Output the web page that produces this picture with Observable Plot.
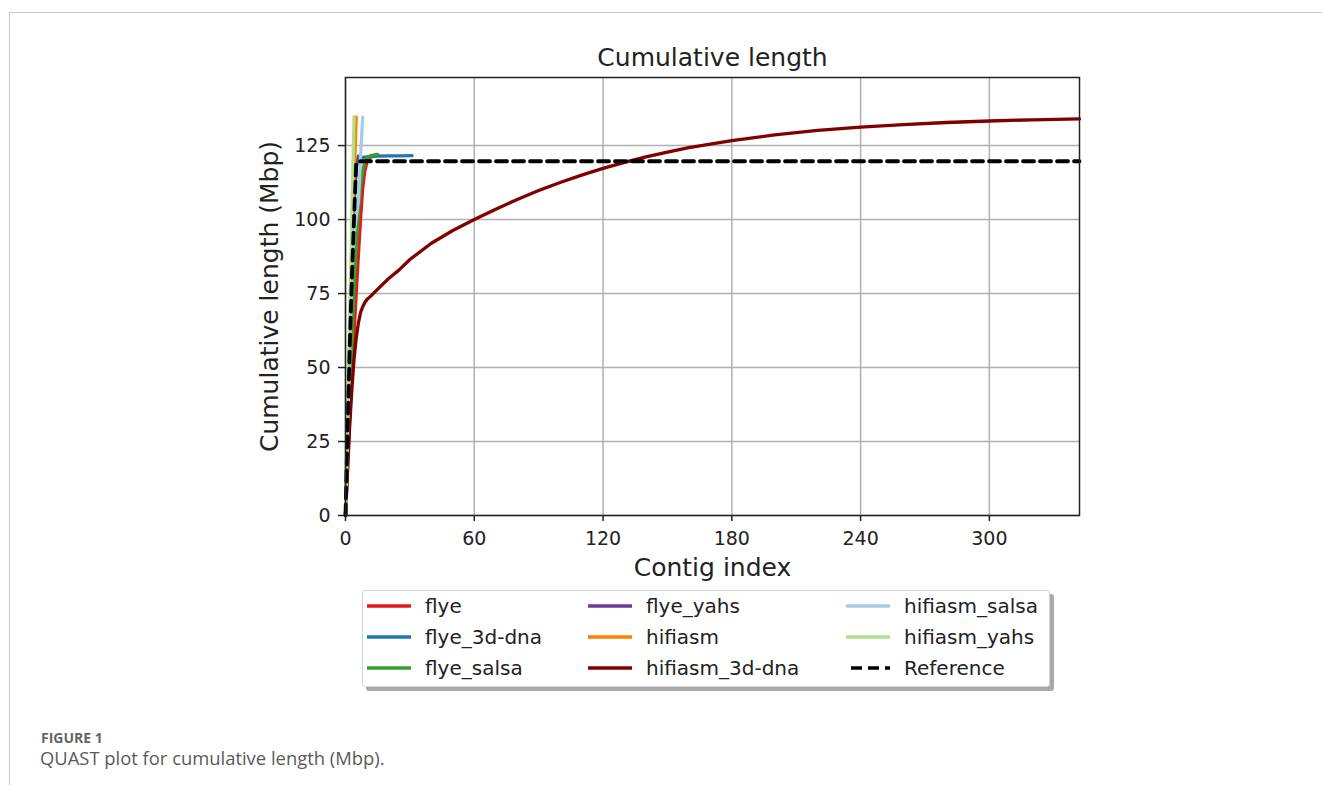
<!DOCTYPE html>
<html>
<head>
<meta charset="utf-8">
<script src="https://cdn.jsdelivr.net/npm/d3@7"></script>
<script src="https://cdn.jsdelivr.net/npm/@observablehq/plot@0.6"></script>
<style>
  body { margin: 0; background: #fff; }
  #page { position: relative; width: 1322px; height: 785px; overflow: hidden; font-family: "DejaVu Sans", sans-serif; background: #fff; }
  #frame { position: absolute; left: 9px; top: 12px; right: -4px; bottom: -4px; border-left: 1.5px solid #c8c8c8; border-top: 1.5px solid #c8c8c8; }
  #chart { position: absolute; left: 0; top: 0; }
  #legendBox { position: absolute; left: 362px; top: 590px; width: 688px; height: 97px; box-sizing: border-box; border: 1px solid #d4d4d4; border-radius: 3px; background: #fff; box-shadow: 4px 4px 0 #a9a9a9; }
  .item { position: absolute; height: 31px; display: flex; align-items: center; font-size: 20px; color: #222; white-space: nowrap; }
  .item svg { margin-right: 14px; }
  #cap1 { position: absolute; left: 41px; top: 731px; height: 13px; line-height: 13px; font-family: "Open Sans", sans-serif; font-weight: 700; font-size: 14px; color: #666; }
  #cap2 { position: absolute; left: 40px; top: 749px; line-height: 18px; font-family: "Open Sans", sans-serif; font-size: 18.4px; color: #5a5a5a; }
</style>
</head>
<body>
<div id="page">
  <div id="frame"></div>
  <div id="chart"></div>
  <div id="legendBox"></div>
  <div id="cap1">FIGURE 1</div>
  <div id="cap2">QUAST plot for cumulative length (Mbp).</div>
</div>
<script>
// ---- data ----
const seriesNames = ["flye", "flye_3d-dna", "flye_salsa", "flye_yahs", "hifiasm", "hifiasm_3d-dna", "hifiasm_salsa", "hifiasm_yahs"];
const seriesColors = ["#E31A1C", "#1F78B4", "#33A02C", "#6A3D9A", "#FF7F00", "#800000", "#A6CEE3", "#B2DF8A"];

const flyeIdx = [0,1,2,3,4,5,6,7,8,9,10,11,12,13,14];
const flyeLen = [0,17,33,48,62,75,88,100,110.5,116.5,119.3,120.6,121.2,121.5,121.6];

const flye3dIdx = [0,1,2,3,4,5,6,7,8,10,12,15,20,25,31];
const flye3dLen = [0,29,57,83,105,117.5,120.2,120.7,121.0,121.2,121.3,121.4,121.5,121.55,121.6];

const flyeSalsaIdx = [0,1,2,3,4,5,6,7,8,9,10,11,12,13,14,15];
const flyeSalsaLen = [0,21,41,60,77,92,103,111,116.5,119.5,120.8,121.3,121.6,121.8,121.9,122.0];

const flyeYahsIdx = [0,1,2,3,4,5,6];
const flyeYahsLen = [0,30,58,84,106,118,121.4];

const hifiasmIdx = [0,1,2,3,4,5];
const hifiasmLen = [0,32,62,90,114,134.6];

const hifiasm3dIdx = [0,1,2,3,4,5,6,7,8,9,10,12,15,20,25,30,40,50,60,70,80,90,100,110,120,130,140,150,160,180,200,220,240,260,280,300,320,342];
const hifiasm3dLen = [0,16,31,43,53,60,65,68.5,70.5,72,73,74.3,76.5,80,83,86.5,92,96.3,100,103.5,106.8,109.8,112.5,115,117.3,119.3,121.2,122.8,124.3,126.7,128.6,130.1,131.2,132.1,132.8,133.3,133.7,134];

const hifiasmSalsaIdx = [0,1,2,3,4,5,6,7,8];
const hifiasmSalsaLen = [0,30,58,82,95,101,106,121,134.6];

const hifiasmYahsIdx = [0,1,2,3,4];
const hifiasmYahsLen = [0,36,69,102,134.8];

const referenceIdx = [0,1,2,3,4,5,6,7,342];
const referenceLen = [0,30.4,57.4,80.9,100.6,119.2,119.5,119.7,119.7];

const xTicks = [0,60,120,180,240,300];
const yTicks = [0,25,50,75,100,125];

// ---- build table ----
const idxLists = [flyeIdx, flye3dIdx, flyeSalsaIdx, flyeYahsIdx, hifiasmIdx, hifiasm3dIdx, hifiasmSalsaIdx, hifiasmYahsIdx];
const lenLists = [flyeLen, flye3dLen, flyeSalsaLen, flyeYahsLen, hifiasmLen, hifiasm3dLen, hifiasmSalsaLen, hifiasmYahsLen];
const rows = [];
seriesNames.forEach((name, k) => {
  idxLists[k].forEach((x, i) => rows.push({series: name, x, y: lenLists[k][i]}));
});
const refRows = referenceIdx.map((x, i) => ({x, y: referenceLen[i]}));

const chart = Plot.plot({
  width: 1322,
  height: 600,
  marginLeft: 345,
  marginRight: 243,
  marginTop: 77,
  marginBottom: 85,
  x: {domain: [0, 342]},
  y: {domain: [0, 148]},
  color: {domain: seriesNames, range: seriesColors},
  style: {fontFamily: "DejaVu Sans", color: "#222", background: "transparent", overflow: "visible"},
  marks: [
    Plot.gridX(xTicks, {stroke: "#b0b0b0", strokeOpacity: 1, strokeWidth: 1.5}),
    Plot.gridY(yTicks, {stroke: "#b0b0b0", strokeOpacity: 1, strokeWidth: 1.5}),
    Plot.line(rows, {x: "x", y: "y", z: "series", stroke: "series", strokeWidth: 3.3, curve: "linear"}),
    Plot.line(refRows, {x: "x", y: "y", stroke: "#000", strokeWidth: 3.8, strokeDasharray: "11,6"}),
    Plot.frame({stroke: "#222", strokeWidth: 1.5}),
    Plot.axisX(xTicks, {tickSize: 6, tickPadding: 10, fontSize: 19, label: null, strokeWidth: 1.5}),
    Plot.axisY(yTicks, {tickSize: 7, tickPadding: 8, fontSize: 19, label: null, strokeWidth: 1.5}),
    Plot.text(["Cumulative length"], {frameAnchor: "top", dy: -12, lineAnchor: "bottom", textAnchor: "middle", fontSize: 25, text: d => d, fill: "#222"}),
    Plot.text(["Contig index"], {frameAnchor: "bottom", dy: 60, lineAnchor: "bottom", textAnchor: "middle", fontSize: 25, text: d => d, fill: "#222"}),
    Plot.text(["Cumulative length (Mbp)"], {frameAnchor: "left", dx: -68, rotate: -90, lineAnchor: "bottom", textAnchor: "middle", fontSize: 25, text: d => d, fill: "#222"})
  ]
});
document.getElementById("chart").appendChild(chart);

// ---- legend ----
const legendNames = [...seriesNames, "Reference"];
const legendColors = [...seriesColors, "#000"];
const colX = [367, 588, 846];
const rowTop = [590, 621, 652];
const page = document.getElementById("page");
legendNames.forEach((name, i) => {
  const col = Math.floor(i / 3), row = i % 3;
  const div = document.createElement("div");
  div.className = "item";
  div.style.left = colX[col] + "px";
  div.style.top = rowTop[row] + "px";
  const dash = name === "Reference" ? 'stroke-dasharray="11,6" stroke-width="3.5"' : 'stroke-width="3.5"';
  div.innerHTML = `<svg width="44" height="8"><line x1="${name === "Reference" ? 5 : 0}" y1="4" x2="44" y2="4" stroke="${legendColors[i]}" ${dash}/></svg><span>${name}</span>`;
  page.appendChild(div);
});
</script>
</body>
</html>
